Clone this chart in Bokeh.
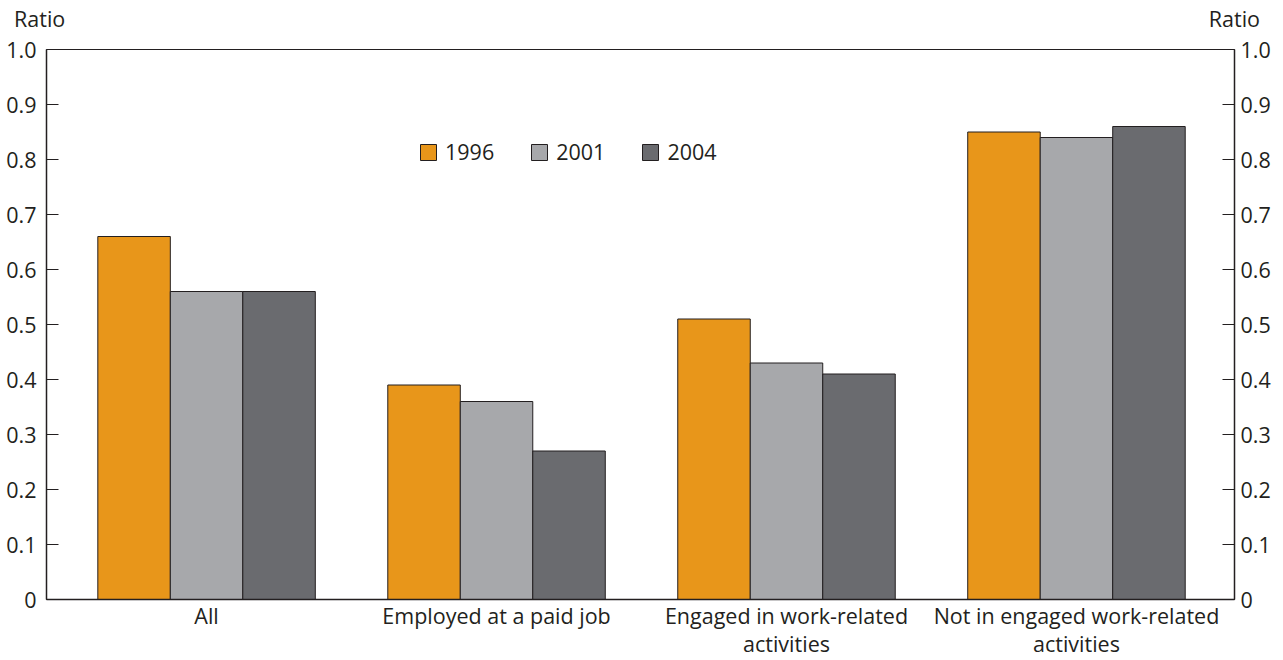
from bokeh.plotting import figure
from bokeh.layouts import column
from bokeh.models import Range1d, LinearAxis, FixedTicker, Legend, LegendItem, Div
from bokeh.embed import file_html
from bokeh.resources import INLINE

categories = ["All", "Employed at a paid job", "Engaged in work-related\nactivities",
              "Not in engaged work-related\nactivities"]
years = ["1996", "2001", "2004"]
v1996 = [0.66, 0.39, 0.51, 0.85]
v2001 = [0.56, 0.36, 0.43, 0.84]
v2004 = [0.56, 0.27, 0.41, 0.86]
y_ticks = [0.0, 0.1, 0.2, 0.3, 0.4, 0.5, 0.6, 0.7, 0.8, 0.9, 1.0]
y_tick_labels = ["0", "0.1", "0.2", "0.3", "0.4", "0.5", "0.6", "0.7", "0.8", "0.9", "1.0"]
unit_label = "Ratio"

colors = ["#E8961A", "#A7A8AB", "#6A6B6F"]
FONT = "Open Sans"
FS = "21.5px"
TXT = "#231F20"

W = 1283
HEAD_H = 34
MAIN_H = 626

# ---- header strip holding the two "Ratio" unit labels ----
span_style = ("position:absolute;top:4px;white-space:nowrap;line-height:29px;"
              "font-family:'Open Sans';font-size:%s;color:%s;" % (FS, TXT))
head_html = (
    '<div style="position:relative;width:%dpx;height:%dpx;">'
    '<span style="%sleft:14px;">%s</span>'
    '<span style="%sright:23px;">%s</span>'
    '</div>' % (W, HEAD_H, span_style, unit_label, span_style, unit_label)
)
head = Div(text=head_html, width=W, height=HEAD_H, margin=(0, 0, 0, 0))

# ---- main chart ----
p = figure(width=W, height=MAIN_H, output_backend="svg", toolbar_location=None,
           x_range=Range1d(-0.552, 3.545), y_range=Range1d(0, 1.0),
           min_border_left=46, min_border_right=49, min_border_top=15, min_border_bottom=61,
           y_axis_location=None)
p.grid.visible = False
p.outline_line_color = TXT
p.outline_line_width = 1
p.background_fill_color = "white"
p.border_fill_color = "white"

idx = list(range(len(categories)))
offsets = [-0.25, 0.0, 0.25]
series = [v1996, v2001, v2004]
renderers = []
for off, vals, c in zip(offsets, series, colors):
    r = p.vbar(x=[i + off for i in idx], top=vals, width=0.25, bottom=0,
               fill_color=c, line_color=TXT, line_width=1)
    renderers.append(r)

xa = p.xaxis[0]
xa.ticker = FixedTicker(ticks=idx)
xa.major_label_overrides = {i: c for i, c in zip(idx, categories)}
xa.major_tick_line_color = None
xa.minor_tick_line_color = None
xa.axis_line_color = TXT
xa.axis_line_width = 1.5
xa.major_label_text_font = FONT
xa.major_label_text_font_size = FS
xa.major_label_text_color = TXT
xa.major_label_text_line_height = 0.97
xa.major_label_standoff = -5

def make_y(loc, standoff):
    ax = LinearAxis(ticker=FixedTicker(ticks=y_ticks),
                    major_label_overrides={t: l for t, l in zip(y_ticks, y_tick_labels)})
    ax.major_tick_in = 12
    ax.major_tick_out = 0
    ax.minor_tick_line_color = None
    ax.major_tick_line_color = TXT
    ax.axis_line_color = TXT
    ax.axis_line_width = 1.5
    ax.major_label_text_font = FONT
    ax.major_label_text_font_size = FS
    ax.major_label_text_color = TXT
    ax.major_label_standoff = standoff
    p.add_layout(ax, loc)

make_y("left", 10)
make_y("right", 6)

legend = Legend(items=[LegendItem(label=y, renderers=[r]) for y, r in zip(years, renderers)],
                orientation="horizontal", location=(372, 433),
                glyph_width=20, glyph_height=20, label_standoff=7, spacing=35,
                padding=0, margin=0, border_line_color=None, background_fill_alpha=0,
                label_text_font=FONT, label_text_font_size=FS, label_text_color=TXT,
                label_height=20)
p.add_layout(legend, "center")

layout = column(head, p, spacing=0)
open("out.html", "w").write(file_html(layout, INLINE))
